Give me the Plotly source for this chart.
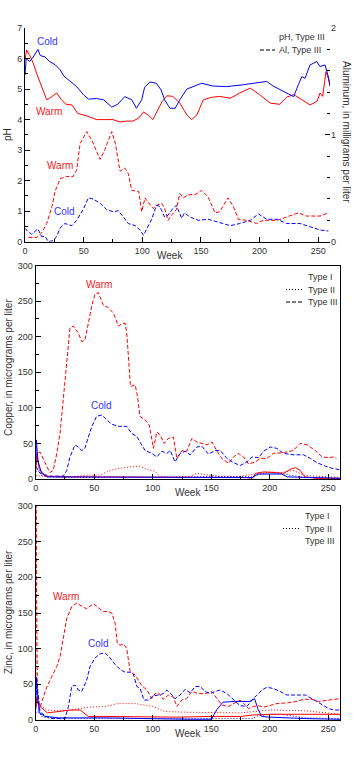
import plotly.graph_objects as go

# ---------------- Data ----------------
# Panel 1: pH (left axis) and aluminum (right axis), Type III
ph_warm_wk = [0, 1.4, 4, 7, 10, 12.8, 16, 18.5, 21, 24, 27, 31, 35, 40, 45, 52.6, 61, 68, 75, 81, 86, 92, 97, 101, 105, 109, 113.6, 117, 121, 126, 132, 138, 142, 146.5, 152, 159, 166, 175, 183, 192, 200, 209, 217, 223, 229, 236, 243, 249, 251.5, 253.7, 256.6, 258.6, 260]
ph_warm = [5.95, 6.28, 6.1, 5.85, 5.5, 5.2, 4.9, 4.65, 4.7, 4.8, 4.87, 4.65, 4.5, 4.48, 4.2, 4.12, 4.0, 4.0, 4.0, 3.92, 3.95, 3.95, 4.05, 4.25, 4.15, 4.0, 4.33, 4.6, 4.78, 4.76, 4.54, 4.15, 4.0, 4.15, 4.65, 4.73, 4.76, 4.7, 4.87, 5.03, 4.82, 4.54, 4.5, 4.73, 4.82, 4.65, 4.48, 4.6, 4.87, 4.76, 5.57, 5.35, 5.1]

ph_cold_wk = [0, 1, 4, 7, 11, 13, 17, 21, 25.6, 30, 33, 38, 44, 50, 54, 61, 67, 74, 79, 85, 91, 95, 99.5, 102, 106.5, 112, 116, 119, 123.6, 128, 132, 138, 143.5, 150.6, 160, 172, 186, 194, 206, 211.5, 220, 229, 233, 236, 238.7, 243, 248.6, 251.5, 255.8, 258.6, 260]
ph_cold = [5.46, 6.0, 5.9, 6.05, 6.3, 6.1, 6.05, 5.9, 5.8, 5.63, 5.43, 5.28, 5.08, 4.81, 4.67, 4.69, 4.65, 4.41, 4.5, 4.75, 4.65, 4.37, 4.65, 5.06, 5.23, 5.19, 4.97, 4.65, 4.37, 4.37, 4.65, 5.0, 5.08, 5.19, 5.1, 5.08, 5.14, 5.19, 5.25, 5.1, 4.92, 4.75, 5.14, 5.41, 5.35, 5.79, 5.9, 5.74, 5.79, 5.4, 5.1]

al_warm_wk = [3, 10, 14, 18.5, 23, 25.6, 30, 35.5, 41, 44, 47, 52.6, 57, 64, 68, 74, 77, 81, 85, 88, 91, 97, 99.5, 102.3, 105, 109.4, 112, 116.5, 119, 122, 125, 129, 132, 135, 139, 145, 150.6, 156, 162, 166, 173, 177.6, 182, 189, 197.5, 203, 215, 223, 233, 240, 251.5, 258.6]
al_warm = [0.04, 0.04, 0.08, 0.17, 0.33, 0.47, 0.59, 0.61, 0.61, 0.67, 0.92, 1.03, 0.95, 0.77, 0.86, 1.03, 0.92, 0.66, 0.69, 0.64, 0.48, 0.47, 0.28, 0.41, 0.37, 0.31, 0.34, 0.36, 0.31, 0.20, 0.25, 0.30, 0.45, 0.41, 0.44, 0.44, 0.48, 0.42, 0.27, 0.28, 0.41, 0.33, 0.21, 0.20, 0.17, 0.20, 0.20, 0.23, 0.27, 0.24, 0.24, 0.27]

al_cold_wk = [0, 3, 5.7, 11, 14, 17, 20, 24, 27, 30, 34, 40, 44, 50, 54, 58, 64, 69.6, 75.3, 79.5, 84, 88, 94, 98, 101, 104, 108, 112, 115, 119, 122, 126, 129, 133.6, 136, 140.7, 147.8, 156, 163, 175, 183, 192, 199, 206, 215, 223, 234.5, 243, 251.5, 258.6]
al_cold = [0.125, 0.09, 0.07, 0.12, 0.05, 0.05, 0.0, 0.01, 0.05, 0.13, 0.17, 0.15, 0.20, 0.31, 0.41, 0.40, 0.36, 0.30, 0.28, 0.29, 0.23, 0.17, 0.15, 0.11, 0.06, 0.125, 0.21, 0.34, 0.33, 0.23, 0.25, 0.31, 0.34, 0.22, 0.27, 0.23, 0.20, 0.21, 0.19, 0.15, 0.17, 0.20, 0.26, 0.21, 0.21, 0.17, 0.17, 0.14, 0.11, 0.10]

# Panel 2: copper
cu_warm3_wk = [0, 0.5, 3.7, 8, 12, 15, 18, 20.8, 23.6, 26.5, 29.3, 32, 36.5, 39.3, 42, 45, 48, 50.7, 53.5, 57.8, 62, 66.4, 70.7, 73.5, 76.4, 77.8, 79, 81, 85, 87, 89, 93.5, 97, 100.6, 103.5, 106.3, 109.7, 113.4, 117.7, 120.6, 124.9, 129.1, 133.4, 137.7, 142, 146.3, 150.6, 154.9, 159, 164.8, 169, 173, 177.6, 181.9, 187.6, 192, 197.6, 203, 211.7, 220, 226, 231.8, 239, 244.7, 250.3, 254.6, 257]
cu_warm3 = [31, 36, 38, 24, 9, 12, 36, 64, 111, 167, 212, 215, 205, 193, 195, 219, 244, 260, 262, 244, 241, 233, 215, 218, 219, 205, 172, 130, 132, 116, 88, 83, 76, 43, 66, 62, 50, 57, 59, 29, 40, 39, 57, 52, 50, 48, 52, 39, 29, 22, 31, 36, 31, 21, 24, 29, 29, 36, 37, 40, 50, 48, 40, 31, 30, 31, 29]

cu_cold3_wk = [0, 3.7, 12, 23.6, 26.5, 29.3, 33.6, 36.5, 39.3, 42, 45, 48, 52, 56.5, 60.7, 65, 70.7, 77.8, 82, 86.4, 89, 93.5, 99.2, 103.5, 107.8, 112, 115, 119, 123.4, 127.7, 132, 137.7, 142, 147.6, 153.3, 157.7, 163.4, 169, 174.7, 180.5, 184.8, 190.4, 194.7, 200.4, 206, 211.7, 220, 228.8, 234.6, 240.3, 247.5, 253.2, 260]
cu_cold3 = [18, 8, 4, 4, 12, 31, 48, 45, 40, 43, 59, 74, 88, 90, 83, 77, 74, 74, 64, 60, 52, 40, 36, 31, 39, 36, 40, 24, 36, 39, 34, 45, 46, 35, 40, 40, 29, 23, 19, 24, 31, 30, 39, 45, 43, 36, 34, 34, 29, 23, 18, 15, 13]

cu_warm2_wk = [0, 10, 20, 30, 45, 55, 63.6, 72, 80.7, 89, 96, 102, 106, 115, 130, 138, 146, 160, 175, 190, 200, 210, 220, 230, 245, 260]
cu_warm2 = [5, 3, 4, 3, 5.5, 5.5, 12, 15, 17, 18, 13, 11, 3, 2, 3, 8, 6, 3, 4, 8, 10, 9, 12, 5, 3, 2]

cu_warm1_wk = [0, 1, 3, 6, 10, 20, 40, 60, 80, 100, 120, 140, 160, 180, 185, 188, 195, 205, 212, 218, 222, 226, 230, 240, 260]
cu_warm1 = [10, 35, 15, 8, 4, 3, 3, 3, 3, 3, 2, 2, 2, 2, 1, 8, 10, 9, 8, 14, 16, 12, 3, 1, 1]

cu_cold1_wk = [0, 0.5, 2, 5, 10, 20, 50, 100, 120, 150, 185, 190, 200, 210, 215, 230, 260]
cu_cold1 = [20, 55, 25, 8, 3, 3, 3, 3, 2, 2, 2, 7, 7, 7, 3, 2, 1]

cu_cold2_wk = [0, 2, 5, 10, 30, 60, 100, 140, 150, 185, 190, 200, 212, 220, 230, 260]
cu_cold2 = [10, 15, 5, 3, 2, 2, 2, 3, 4, 3, 6, 9, 7, 5, 2, 1]

# Panel 3: zinc
zn_warm3_wk = [0, 0.3, 0.8, 1.5, 3.7, 6.5, 9.4, 13.7, 18, 20.8, 23.6, 26.5, 30.8, 35, 40.7, 43.6, 49.3, 53.5, 57.8, 62, 65, 67.8, 69.8, 72, 75.5, 77.8, 80.7, 85, 87.8, 90.7, 95, 99.2, 102, 105, 109, 113.4, 117.7, 120.6, 124.9, 129, 133.4, 139, 144.8, 150.6, 154.9, 159, 164.8, 169, 174.7, 177.6, 181.9, 186, 190.4, 194.7, 200.4, 206, 214.7, 223.2, 228.8, 236, 241.7, 250.3, 260]
zn_warm3 = [20, 300, 170, 25, 18, 32, 46, 61, 75, 89, 117, 142, 159, 164, 158, 156, 163, 158, 152, 152, 150, 136, 107, 105, 106, 100, 68, 63, 56, 48, 42, 30, 37, 38, 29, 35, 32, 19, 28, 30, 40, 37, 37, 40, 30, 21, 19, 23, 28, 23, 16, 19, 20, 18, 21, 23, 24, 26, 29, 29, 26, 28, 30]

zn_cold3_wk = [0, 0.5, 3.7, 12, 25, 28, 30.8, 33.6, 36.5, 39.3, 43.6, 46.4, 50.7, 55, 59.3, 63.6, 67.8, 72, 76.4, 80.7, 83.5, 86.4, 89.2, 92.6, 96.3, 100.6, 104.9, 109.1, 112, 115.5, 119, 123.4, 127.7, 132, 136.3, 140.5, 144.8, 149, 153.3, 157.7, 163.4, 169, 174.7, 180.5, 184.8, 189, 193.3, 197.6, 203.2, 208.9, 214.6, 223.2, 230.4, 236, 243.2, 250.3, 254.6, 260]
zn_cold3 = [18, 60, 11, 2, 2, 19, 47, 49, 42, 40, 56, 75, 87, 93, 94, 87, 78, 71, 67, 67, 64, 47, 44, 28, 28, 34, 35, 37, 42, 37, 30, 35, 43, 38, 47, 47, 40, 37, 40, 42, 37, 28, 20, 19, 28, 35, 42, 46, 44, 40, 35, 35, 35, 30, 23, 16, 14, 14]

zn_warm2_wk = [0, 1, 5, 10, 20, 30, 45, 60, 70, 85, 100, 110, 125, 150, 175, 200, 230, 260]
zn_warm2 = [25, 28, 19, 14, 13, 14, 18, 19, 23, 23, 19, 12, 11, 10, 10, 14, 13, 8]

zn_warm1_wk = [0, 1, 3, 10, 20, 30, 38, 45, 60, 120, 150, 175, 185, 200, 230, 260]
zn_warm1 = [15, 30, 20, 10, 12, 14, 14, 5, 5, 4, 5, 5, 7, 8, 8, 8]

zn_cold1_wk = [0, 0.5, 3, 8, 20, 60, 130, 150, 155, 160, 170, 183, 187, 190, 193, 200, 230, 260]
zn_cold1 = [15, 60, 10, 5, 3, 3, 1, 1, 15, 25, 26, 26, 30, 15, 5, 4, 2, 1]

zn_cold2_wk = [0, 2, 6, 20, 60, 100, 140, 150, 185, 190, 200, 210, 220, 230, 260]
zn_cold2 = [10, 12, 4, 2, 2, 2, 1, 1, 2, 6, 8, 8, 6, 3, 2]

x_ticks = [0, 50, 100, 150, 200, 250]

# ---------------- Styling ----------------
W, H = 354, 759
RED = "#ff0000"
BLUE = "#0000ff"
FONT = "Arial, Liberation Sans, sans-serif"
DASH = "4px,2px"
DOT = "1px,2px"


def px(x):
    return x / W


def py(y):
    return 1 - y / H


fig = go.Figure()


def add(x, y, color, dash, xa, ya, width=1):
    fig.add_trace(go.Scatter(x=x, y=y, mode="lines", xaxis=xa, yaxis=ya,
                             line=dict(color=color, width=width, dash=dash),
                             hoverinfo="skip", showlegend=False))


# Panel 1
add(ph_warm_wk, ph_warm, RED, "solid", "x", "y")
add(ph_cold_wk, ph_cold, BLUE, "solid", "x", "y")
add(al_warm_wk, al_warm, RED, DASH, "x", "y2")
add(al_cold_wk, al_cold, BLUE, DASH, "x", "y2")

# Panel 2
add(cu_warm3_wk, cu_warm3, RED, DASH, "x2", "y3")
add(cu_cold3_wk, cu_cold3, BLUE, DASH, "x2", "y3")
add(cu_warm2_wk, cu_warm2, RED, DOT, "x2", "y3")
add(cu_cold2_wk, cu_cold2, BLUE, DOT, "x2", "y3")
add(cu_warm1_wk, cu_warm1, RED, "solid", "x2", "y3")
add(cu_cold1_wk, cu_cold1, BLUE, "solid", "x2", "y3")

# Panel 3
add(zn_warm3_wk, zn_warm3, RED, DASH, "x3", "y4")
add(zn_cold3_wk, zn_cold3, BLUE, DASH, "x3", "y4")
add(zn_warm2_wk, zn_warm2, RED, DOT, "x3", "y4")
add(zn_cold2_wk, zn_cold2, BLUE, DOT, "x3", "y4")
add(zn_warm1_wk, zn_warm1, RED, "solid", "x3", "y4")
add(zn_cold1_wk, zn_cold1, BLUE, "solid", "x3", "y4")

tickfont = dict(family=FONT, size=9, color="#333333")
common = dict(showgrid=False, zeroline=False, ticks="inside", ticklen=5,
              tickwidth=1, tickcolor="black", linecolor="black", linewidth=1,
              tickfont=tickfont, automargin=False, fixedrange=True)


def xaxis(domain, anchor, mirror):
    return dict(common, domain=domain, anchor=anchor, range=[0, 260],
                tickvals=x_ticks, showline=True, mirror=mirror,
                minor=dict(ticks="inside", ticklen=3, tickcolor="black", dtick=25, tick0=0))


def yaxis(domain, anchor, rng, dtick, minor_dtick, mirror, **kw):
    d = dict(common, domain=domain, anchor=anchor, range=rng, dtick=dtick, tick0=0,
             showline=True, mirror=mirror,
             minor=dict(ticks="inside", ticklen=3, tickcolor="black", dtick=minor_dtick, tick0=0))
    d.update(kw)
    return d


x1d = [px(25), px(330)]
y1d = [py(241.7), py(28)]
x2d = [px(35.7), px(340)]
y2d = [py(479), py(265.5)]
y3d = [py(720), py(506)]

fig.update_layout(
    width=W, height=H,
    margin=dict(l=0, r=0, t=0, b=0),
    paper_bgcolor="white", plot_bgcolor="white",
    showlegend=False,
    font=dict(family=FONT, size=10, color="#333333"),
    xaxis=xaxis(x1d, "y", False),
    yaxis=yaxis(y1d, "x", [0, 7], 1, 0.5, False),
    yaxis2=yaxis(y1d, "x", [0, 2], 1, 0.2, False, overlaying="y", side="right", showline=False),
    xaxis2=xaxis(x2d, "y3", True),
    yaxis3=yaxis(y2d, "x2", [0, 300], 50, 25, True),
    xaxis3=xaxis(x2d, "y4", True),
    yaxis4=yaxis(y3d, "x3", [0, 300], 50, 25, True),
)

ann = []


def text(x, y, s, size=10, color="#333333", xref="paper", yref="paper", xanchor="center", angle=0):
    ann.append(dict(x=x, y=y, xref=xref, yref=yref, text=s, showarrow=False,
                    xanchor=xanchor, yanchor="middle", textangle=angle, borderpad=0,
                    font=dict(family=FONT, size=size, color=color)))


# Axis titles
text(px(8), py(135), "pH", angle=-90)
text(px(347), py(132), "Aluminum, in milligrams per liter", angle=90)
text(px(170), py(255), "Week")
text(px(8), py(368), "Copper, in micrograms per liter", angle=-90)
text(px(188), py(492), "Week")
text(px(8), py(612), "Zinc, in micrograms per liter", angle=-90)
text(px(188), py(733), "Week")

# Series labels (in data coordinates)
LBLUE = "#3333ff"
LRED = "#ee2222"
text(18.8, 6.55, "Cold", color=LBLUE, xref="x", yref="y")
text(20.5, 4.25, "Warm", color=LRED, xref="x", yref="y")
text(29.8, 2.48, "Warm", color=LRED, xref="x", yref="y")
text(33.7, 0.98, "Cold", color=LBLUE, xref="x", yref="y")
text(54.1, 274, "Warm", color=LRED, xref="x2", yref="y3")
text(55.9, 103, "Cold", color=LBLUE, xref="x2", yref="y3")
text(25.9, 173, "Warm", color=LRED, xref="x3", yref="y4")
text(53.3, 107.5, "Cold", color=LBLUE, xref="x3", yref="y4")

# Legends
text(px(278), py(37), "pH, Type III", size=9, xanchor="left")
text(px(278), py(50), "Al, Type III", size=9, xanchor="left")
text(px(307), py(277), "Type I", size=9, xanchor="left")
text(px(307), py(289.5), "Type II", size=9, xanchor="left")
text(px(307), py(302), "Type III", size=9, xanchor="left")
text(px(304), py(516), "Type I", size=9, xanchor="left")
text(px(304), py(528.5), "Type II", size=9, xanchor="left")
text(px(304), py(541), "Type III", size=9, xanchor="left")

fig.update_layout(annotations=ann)

shapes = []


def sample(x0, x1, y, dash):
    shapes.append(dict(type="line", xref="paper", yref="paper",
                       x0=px(x0), x1=px(x1), y0=py(y), y1=py(y),
                       line=dict(color="black", width=1, dash=dash)))


sample(260, 275, 50, DASH)
sample(286, 302, 289.5, DOT)
sample(286, 302, 302, DASH)
sample(283, 300, 528.5, DOT)
fig.update_layout(shapes=shapes)

# Remove the browser's default body margin so the 354x759 figure fills the window exactly
fig.write_html("out.html",
               config={"displayModeBar": False, "staticPlot": True},
               post_script="document.body.style.margin='0';document.body.style.overflow='hidden';")
